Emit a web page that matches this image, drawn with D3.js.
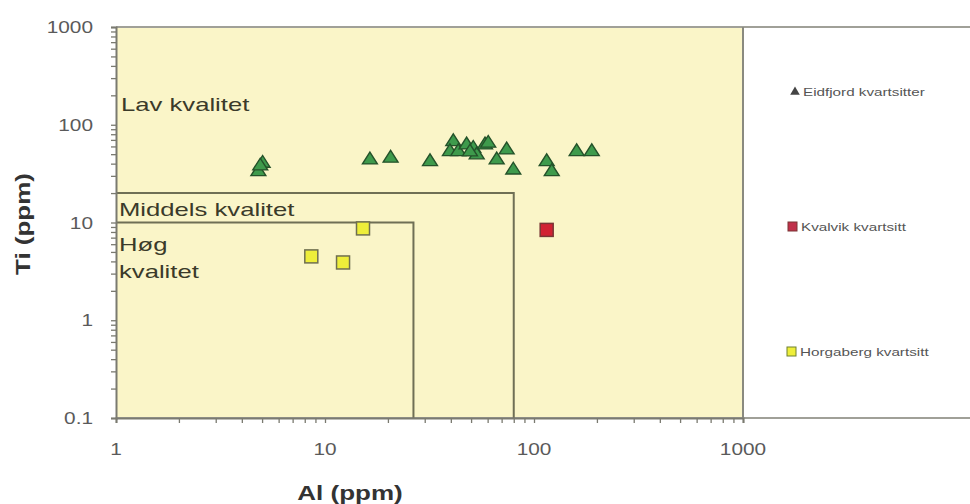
<!DOCTYPE html>
<html>
<head>
<meta charset="utf-8">
<script src="https://cdn.jsdelivr.net/npm/d3@7"></script>
<style>
  html, body { margin: 0; padding: 0; background: #ffffff; }
  svg { display: block; }
</style>
</head>
<body>
<svg id="chart" width="970" height="504"></svg>
<script>
// ---- Data ----
const eidfjordAl = [4.8, 5.03, 4.9, 16.4, 20.6, 31.8, 41.1, 39.6, 43.4, 47.6, 51.2, 53.2, 58.3, 60.4, 66.3, 74.0, 79.6, 115, 121.6, 160, 189, 49.4];
const eidfjordTi = [33.1, 40.3, 37.8, 43.6, 45.4, 41.9, 67.1, 53.0, 53.0, 62.1, 57.4, 49.1, 62.1, 64.6, 43.6, 55.2, 34.4, 41.9, 33.1, 53.0, 53.0, 52.6];
const kvalvikAl = [115];
const kvalvikTi = [8.4];
const horgabergAl = [15.2, 8.6, 12.2];
const horgabergTi = [8.7, 4.5, 3.9];
const xTicks = [1, 10, 100, 1000];
const yTicks = [0.1, 1, 10, 100, 1000];
const xTickLabels = ["1", "10", "100", "1000"];
const yTickLabels = ["0.1", "1", "10", "100", "1000"];
// quality region limits
const midAlLimit = 80, midTiLimit = 20;
const highAlLimit = 26.5, highTiLimit = 10;
const regionLabels = ["Lav kvalitet", "Middels kvalitet", "Høg", "kvalitet"];
const seriesNames = ["Eidfjord kvartsitter", "Kvalvik kvartsitt", "Horgaberg kvartsitt"];

// ---- Layout ----
const svg = d3.select("#chart");
const L = 116, R = 743, T = 27, B = 418;
const x = d3.scaleLog().domain([1, 1000]).range([L, R]);
const y = d3.scaleLog().domain([0.1, 1000]).range([B, T]);
const font = "Liberation Sans, Arial, sans-serif";
const STRETCH = 1.35; // the reference is horizontally stretched

function stretch(sel, k) {
  sel.each(function () {
    const w = this.getComputedTextLength();
    d3.select(this).attr("textLength", w * k).attr("lengthAdjust", "spacingAndGlyphs");
  });
}

// plot background
svg.append("rect").attr("x", L).attr("y", T).attr("width", R - L).attr("height", B - T)
  .attr("fill", "#faf5c8");

// frame lines extending across to the right
svg.append("line").attr("x1", L).attr("x2", 970).attr("y1", T).attr("y2", T)
  .attr("stroke", "#a0a098").attr("stroke-width", 2);
svg.append("line").attr("x1", L).attr("x2", 970).attr("y1", B).attr("y2", B)
  .attr("stroke", "#a0a098").attr("stroke-width", 2);
svg.append("line").attr("x1", R).attr("x2", R).attr("y1", T).attr("y2", B)
  .attr("stroke", "#8a8a80").attr("stroke-width", 2);

// region boxes
const boxColor = "#6f6f55";
svg.append("path")
  .attr("d", `M${L},${y(midTiLimit)}H${x(midAlLimit)}V${B}`)
  .attr("fill", "none").attr("stroke", boxColor).attr("stroke-width", 2);
svg.append("path")
  .attr("d", `M${L},${y(highTiLimit)}H${x(highAlLimit)}V${B}`)
  .attr("fill", "none").attr("stroke", boxColor).attr("stroke-width", 2);

// axes
const minorX = [];
[1, 10, 100].forEach(d => { for (let k = 1; k < 10; k++) minorX.push(d * k); });
minorX.push(1000);
const minorY = [];
[0.1, 1, 10, 100].forEach(d => { for (let k = 1; k < 10; k++) minorY.push(+(d * k).toPrecision(3)); });
minorY.push(1000);

const xAxis = d3.axisBottom(x).tickValues(minorX).tickSize(5).tickFormat("");
const gx = svg.append("g").attr("transform", `translate(0,${B})`).call(xAxis);
gx.select(".domain").attr("stroke", "#7a7a70").attr("stroke-width", 2);
gx.selectAll(".tick line").attr("stroke", "#7a7a70").attr("stroke-width", 1.3);

const yAxis = d3.axisLeft(y).tickValues(minorY).tickSize(5).tickFormat("");
const gy = svg.append("g").attr("transform", `translate(${L},0)`).call(yAxis);
gy.select(".domain").attr("stroke", "#7a7a70").attr("stroke-width", 2);
gy.selectAll(".tick line").attr("stroke", "#7a7a70").attr("stroke-width", 1.3);

// tick labels
svg.append("g").selectAll("text").data(xTicks).join("text")
  .attr("x", d => x(d)).attr("y", 455)
  .attr("text-anchor", "middle")
  .attr("font-family", font).attr("font-size", 16).attr("fill", "#5a5a5a")
  .text((d, i) => xTickLabels[i])
  .call(stretch, 1.3);
svg.append("g").selectAll("text").data(yTicks).join("text")
  .attr("x", 93).attr("y", d => y(d) + 6)
  .attr("text-anchor", "end")
  .attr("font-family", font).attr("font-size", 16).attr("fill", "#5a5a5a")
  .text((d, i) => yTickLabels[i])
  .call(stretch, 1.3);

// axis titles
svg.append("text").attr("x", 350).attr("y", 500).attr("text-anchor", "middle")
  .attr("font-family", font).attr("font-size", 20).attr("font-weight", "bold").attr("fill", "#333")
  .text("Al (ppm)").call(stretch, 1.3);
svg.append("text").attr("transform", "translate(30,224) rotate(-90)").attr("text-anchor", "middle")
  .attr("font-family", font).attr("font-size", 20).attr("font-weight", "bold").attr("fill", "#333")
  .text("Ti (ppm)").call(stretch, 1.3);

// region labels
const rl = svg.append("g").attr("font-family", font).attr("font-size", 19).attr("fill", "#3a3a2a");
rl.append("text").attr("x", 121).attr("y", 111).text(regionLabels[0]);
rl.append("text").attr("x", 119).attr("y", 216).text(regionLabels[1]);
rl.append("text").attr("x", 119).attr("y", 251).text(regionLabels[2]);
rl.append("text").attr("x", 119).attr("y", 278).text(regionLabels[3]);
rl.selectAll("text").call(stretch, STRETCH);

// markers
const tri = d3.symbol().type(d3.symbolTriangle).size(80);
svg.append("g").selectAll("path").data(eidfjordAl.map((a, i) => [a, eidfjordTi[i]])).join("path")
  .attr("d", tri)
  .attr("transform", d => `translate(${x(d[0])},${y(d[1])}) scale(1.1,1)`)
  .attr("fill", "#3e9a4c").attr("stroke", "#24522a").attr("stroke-width", 1.3);

const sq = 13;
svg.append("g").selectAll("rect").data(kvalvikAl.map((a, i) => [a, kvalvikTi[i]])).join("rect")
  .attr("x", d => x(d[0]) - sq / 2).attr("y", d => y(d[1]) - sq / 2)
  .attr("width", sq).attr("height", sq)
  .attr("fill", "#d12233").attr("stroke", "#7a3535").attr("stroke-width", 1.5);
svg.append("g").selectAll("rect").data(horgabergAl.map((a, i) => [a, horgabergTi[i]])).join("rect")
  .attr("x", d => x(d[0]) - sq / 2).attr("y", d => y(d[1]) - sq / 2)
  .attr("width", sq).attr("height", sq)
  .attr("fill", "#eeee3a").attr("stroke", "#6f6f50").attr("stroke-width", 1.5);

// legend
const lg = svg.append("g").attr("font-family", font).attr("font-size", 10.5).attr("fill", "#555");
lg.append("path").attr("d", d3.symbol().type(d3.symbolTriangle).size(40))
  .attr("transform", "translate(795,92)").attr("fill", "#444");
lg.append("text").attr("x", 803).attr("y", 96).text(seriesNames[0]);
lg.append("rect").attr("x", 788).attr("y", 222).attr("width", 9).attr("height", 9)
  .attr("fill", "#c0304a").attr("stroke", "#7a3535");
lg.append("text").attr("x", 801).attr("y", 231).text(seriesNames[1]);
lg.append("rect").attr("x", 787).attr("y", 347).attr("width", 9).attr("height", 9)
  .attr("fill", "#eeee3a").attr("stroke", "#6f8030");
lg.append("text").attr("x", 800).attr("y", 356).text(seriesNames[2]);
lg.selectAll("text").call(stretch, 1.45);
</script>
</body>
</html>
